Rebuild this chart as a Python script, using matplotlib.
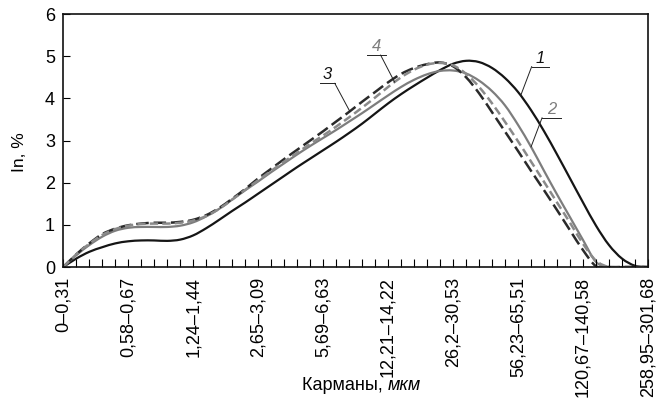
import numpy as np
import matplotlib
matplotlib.use('Agg')
import matplotlib.pyplot as plt
from matplotlib import font_manager
from matplotlib.path import Path
from matplotlib.patches import PathPatch

# Size classes (µm) that carry a tick label; there are 5 bins between each labelled one
bin_labels = ['0–0,31', '0,58–0,67', '1,24–1,44', '2,65–3,09', '5,69–6,63',
              '12,21–14,22', '26,2–30,53', '56,23–65,51', '120,67–140,58', '258,95–301,68']
n_bins = 46

# Differential distributions In, % for each bin
curve1 = [0, 0.20, 0.36, 0.47, 0.56, 0.61, 0.63, 0.63, 0.62, 0.65,
          0.75, 0.92, 1.12, 1.33, 1.53, 1.74, 1.95, 2.16, 2.37, 2.57,
          2.77, 2.97, 3.18, 3.40, 3.64, 3.88, 4.10, 4.30, 4.49, 4.67,
          4.82, 4.89, 4.86, 4.72, 4.48, 4.15, 3.72, 3.22, 2.67, 2.10,
          1.53, 0.98, 0.52, 0.20, 0.03, 0]
curve2 = [0, 0.28, 0.52, 0.72, 0.86, 0.93, 0.95, 0.95, 0.95, 0.98,
          1.06, 1.20, 1.38, 1.60, 1.82, 2.03, 2.25, 2.46, 2.67, 2.87,
          3.06, 3.25, 3.45, 3.65, 3.86, 4.07, 4.27, 4.44, 4.57, 4.65,
          4.66, 4.59, 4.42, 4.17, 3.83, 3.37, 2.85, 2.28, 1.72, 1.18,
          0.64, 0.12, 0, 0, 0, 0]
curve3 = [0, 0.30, 0.56, 0.78, 0.91, 0.99, 1.03, 1.05, 1.05, 1.07,
          1.12, 1.23, 1.40, 1.62, 1.85, 2.10, 2.33, 2.56, 2.78, 3.00,
          3.22, 3.45, 3.68, 3.92, 4.15, 4.38, 4.58, 4.72, 4.81, 4.85,
          4.76, 4.50, 4.12, 3.67, 3.21, 2.75, 2.28, 1.82, 1.35, 0.87,
          0.40, 0.02, 0, 0, 0, 0]
curve4 = [0, 0.30, 0.55, 0.76, 0.90, 0.98, 1.02, 1.03, 1.03, 1.05,
          1.10, 1.21, 1.38, 1.60, 1.83, 2.06, 2.28, 2.50, 2.71, 2.92,
          3.12, 3.33, 3.55, 3.78, 4.02, 4.27, 4.50, 4.68, 4.80, 4.84,
          4.78, 4.58, 4.27, 3.88, 3.44, 2.98, 2.50, 2.02, 1.53, 1.05,
          0.55, 0.15, 0, 0, 0, 0]

available = {f.name for f in font_manager.fontManager.ttflist}
narrow = 'Liberation Sans Narrow' if 'Liberation Sans Narrow' in available else 'Liberation Sans'
wide = 'Liberation Sans'

plt.rcParams['lines.scale_dashes'] = False

fig = plt.figure(figsize=(6.64, 3.98), dpi=100)
ax = fig.add_axes([0.0953, 0.3291, 0.8806, 0.6357])

x = np.arange(n_bins)


def smooth_line(series, **kw):
    """Smoothed line through the points (Catmull-Rom as cubic Bezier segments)."""
    p = np.column_stack([x, series]).astype(float)
    ext = np.vstack([p[0], p, p[-1]])
    verts = [p[0]]
    codes = [Path.MOVETO]
    for i in range(len(p) - 1):
        p0, p1, p2, p3 = ext[i], ext[i + 1], ext[i + 2], ext[i + 3]
        verts += [p1 + (p2 - p0) / 6, p2 - (p3 - p1) / 6, p2]
        codes += [Path.CURVE4] * 3
    patch = PathPatch(Path(verts, codes), fill=False, **kw)
    ax.add_patch(patch)
    return patch


smooth_line(curve1, edgecolor='#151515', lw=1.6)
smooth_line(curve2, edgecolor='#7d7d7d', lw=1.6)
smooth_line(curve3, edgecolor='#2a2a2a', lw=1.8, linestyle=(0, (9, 3.5)))
smooth_line(curve4, edgecolor='#8a8a8a', lw=1.8, linestyle=(0, (6, 3)))

ax.set_xlim(0, n_bins - 1)
ax.set_ylim(0, 6)

ax.set_xticks(np.arange(0, n_bins, 5))
ax.set_xticks(np.arange(n_bins), minor=True)
ax.set_xticklabels(bin_labels, rotation=90, family=wide, fontsize=13)
ax.set_yticks(range(7))
ax.set_yticklabels([str(v) for v in range(7)], family=narrow, fontsize=13)
ax.tick_params(axis='x', which='both', direction='in', length=5.5, width=0.8, pad=7)
ax.tick_params(axis='y', direction='in', length=5, width=0.8, pad=6)

for s in ax.spines.values():
    s.set_linewidth(1.2)
    s.set_color('#111111')

ax.set_ylabel('In, %', family=wide, fontsize=12.5)
ax.yaxis.set_label_coords(-0.062, 0.455)

# Axis title with the unit in italics
t1 = fig.text(0.4548, 0.02, 'Карманы, ', family=narrow, fontsize=13, ha='left', va='baseline')
ax.annotate('мкм', xy=(1, 0), xycoords=t1, va='bottom', ha='left',
            family=narrow, fontsize=13, style='italic')


def callout(label, xi, series, dx, dy, left, right, color):
    """Leader from the curve up to an underlined curve number (offsets in pixels)."""
    yi = np.interp(xi, x, series)
    px, py = ax.transData.transform((xi, yi))
    inv = ax.transData.inverted()
    tx, ty = px + dx, py + dy
    pts = inv.transform([(px, py), (tx, ty), (tx + left, ty), (tx + right, ty)])
    ax.plot(pts[:2, 0], pts[:2, 1], color='#222222', lw=0.7, clip_on=False)
    ax.plot(pts[2:, 0], pts[2:, 1], color='#222222', lw=0.7, clip_on=False)
    cx, cy = inv.transform(((tx + (left + right) / 2), ty + 1))
    ax.text(cx, cy, label, color=color, family=narrow, style='italic',
            fontsize=12, ha='center', va='bottom')


callout('1', 35.2, curve1, 11, 29, 0, 17, '#111111')
callout('2', 36.0, curve2, 11, 29, 0, 19, '#7d7d7d')
callout('3', 22.05, curve3, -15, 28, -15, 0, '#111111')
callout('4', 25.5, curve4, -14, 27, -14, 5, '#7d7d7d')

fig.savefig('out.png', dpi=100)
